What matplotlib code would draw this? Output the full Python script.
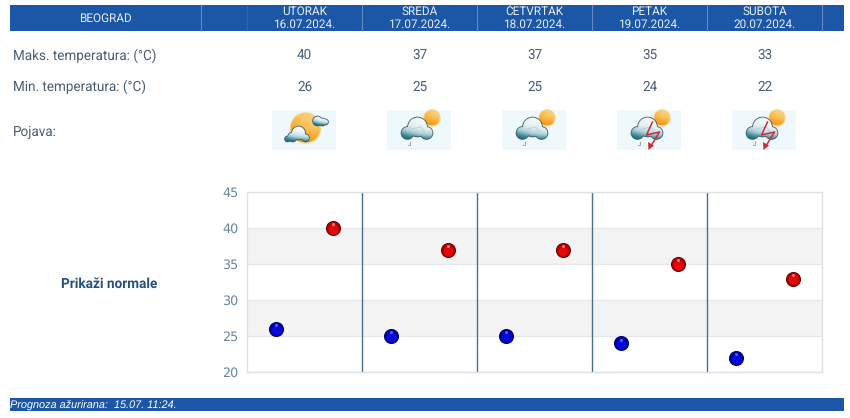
import numpy as np
import matplotlib
matplotlib.use("Agg")
import matplotlib.pyplot as plt
from matplotlib.patches import Rectangle, Circle, Polygon, PathPatch
from matplotlib.path import Path
from matplotlib.colors import LinearSegmentedColormap

plt.rcParams['font.family'] = ['Roboto', 'DejaVu Sans']
plt.rcParams['text.hinting'] = 'no_hinting'
plt.rcParams['text.hinting_factor'] = 8

city = "BEOGRAD"
days = ["UTORAK", "SREDA", "ČETVRTAK", "PETAK", "SUBOTA"]
dates = ["16.07.2024.", "17.07.2024.", "18.07.2024.", "19.07.2024.", "20.07.2024."]
t_max = [40, 37, 37, 35, 33]
t_min = [26, 25, 25, 24, 22]
icons = ["sun", "cloud", "cloud", "storm", "storm"]
y_ticks = [20, 25, 30, 35, 40, 45]
bands = [(25, 30), (35, 40)]

W, H = 850, 418
BLUE = "#1b57a6"
TXT = "#4a5e73"
HEAD = "#e6edf6"
BODY = 9.75
HEADSZ = 8.5
fig = plt.figure(figsize=(W / 100, H / 100), dpi=100, facecolor="white")

ov = fig.add_axes([0, 0, 1, 1], zorder=1)
ov.set_xlim(0, W); ov.set_ylim(H, 0); ov.axis("off"); ov.set_autoscale_on(False)

ov.add_patch(Rectangle((10, 5), 834, 26, fc=BLUE, ec="none"))
ov.add_patch(Rectangle((10, 398), 834, 13, fc=BLUE, ec="none"))
for x, a in [(201, .6), (247, .18), (362, .6), (477, .6), (592, .6), (707, .6), (822, .6)]:
    ov.plot([x, x], [5, 31], color="#8fb0d8", lw=.8, alpha=a)
ov.text(105, 18.5, city, color=HEAD, fontsize=HEADSZ, ha="center", va="center")
ov.text(10.5, 404.5, "Prognoza ažurirana:  15.07. 11:24.", color="white", fontsize=7.8,
        style="italic", family=["Liberation Sans"], ha="left", va="center")
ov.text(13, 55.5, "Maks. temperatura: (°C)", color=TXT, fontsize=BODY, va="center")
ov.text(13, 87, "Min. temperatura: (°C)", color=TXT, fontsize=BODY, va="center")
ov.text(13, 132, "Pojava:", color=TXT, fontsize=BODY, va="center")
ov.text(109, 284, "Prikaži normale", color="#26517f", fontsize=9.8, weight="bold",
        ha="center", va="center")

cloud_cmap = LinearSegmentedColormap.from_list("c", ["#f6fafb", "#e2eff2", "#a9cdd5", "#3f8a9b", "#1f6576"])
sun_cmap = LinearSegmentedColormap.from_list("s", ["#fcd27a", "#f7ab2e", "#ee8f12"])


def circles_path(circles):
    return Path.make_compound_path(*[
        Path.circle((x, y), r) for x, y, r in circles])


def grad_fill(circles, cmap, x0, x1, y0, y1, z):
    gy, gx = np.mgrid[0:1:40j, 0:1:40j]
    im = ov.imshow(np.clip(gy * gy * .75 + (1 - gx) ** 2 * .35, 0, 1), cmap=cmap, vmin=0, vmax=1,
                   extent=(x0, x1, y1, y0), zorder=z, aspect="auto", interpolation="bilinear")
    im.set_clip_path(PathPatch(circles_path(circles), transform=ov.transData))


def cloud(lobes, z):
    xs = [c[0] for c in lobes]; ys = [c[1] for c in lobes]; rs = [c[2] for c in lobes]
    for x, y, r in lobes:
        ov.add_patch(Circle((x, y), r + .8, fc="#3a5a66", ec="none", zorder=z))
    grad_fill(lobes, cloud_cmap, min(xs) - max(rs), max(xs) + max(rs),
              min(y - r for x, y, r in lobes), max(y + r for x, y, r in lobes), z + .1)


def sun(x, y, r, z):
    ov.add_patch(Circle((x, y), r + 1.2, fc="#f9cf8a", ec="none", zorder=z))
    grad_fill([(x, y, r)], sun_cmap, x - r, x + r, y - r, y + r, z + .1)


def draw_icon(kind, cx):
    cy = 130
    ov.add_patch(Rectangle((cx - 32, cy - 20), 64, 40, fc="#eff9fc", ec="none", zorder=2))
    if kind == "sun":
        sun(cx + 1, cy - 2, 14.5, 3)
        cloud([(cx + 13, cy - 9, 4.5), (cx + 18, cy - 8, 3.5), (cx + 21, cy - 8, 2.5)], 4)
        cloud([(cx - 12, cy + 7, 4.5), (cx - 6, cy + 3, 6.5), (cx + 1, cy + 8, 3.5), (cx - 17, cy + 9, 2.5)], 5)
    else:
        sun(cx + 12.5, cy - 12, 7.5, 3)
        cloud([(cx - 12, cy + 3, 6), (cx - 2, cy - 3, 9.5), (cx + 7, cy + 3, 6)], 4)
        ov.plot([cx - 8, cx + 1, cx + 5], [cy - 1, cy - 3, cy + 1], color="#b9d0d6", lw=.7, zorder=5)
        ov.text(cx - 10, cy + 14, "J", color="#667", fontsize=4.5, ha="center", va="center", zorder=5)
        if kind == "storm":
            ov.plot([cx + 3, cx - 3, cx + 10, cx + 2], [cy - 8, cy + 5, cy + 2, cy + 15],
                    color="#cf2a3a", lw=1.1, zorder=6)
            ov.add_patch(Polygon([(cx - 1, cy + 20), (cx - 1.5, cy + 12), (cx + 4.5, cy + 15.5)],
                                 fc="#cf2a3a", ec="none", zorder=6))


for i in range(5):
    cx = 247 + 115 * (i + 0.5)
    ov.text(cx, 12, days[i], color=HEAD, fontsize=HEADSZ, ha="center", va="center")
    ov.text(cx, 25, dates[i], color=HEAD, fontsize=HEADSZ, ha="center", va="center")
    ov.text(cx, 55.5, str(t_max[i]), color=TXT, fontsize=BODY, ha="center", va="center")
    ov.text(cx, 87, str(t_min[i]), color=TXT, fontsize=BODY, ha="center", va="center")
    draw_icon(icons[i], cx)

ax = fig.add_axes([246.8 / W, (H - 372.3) / H, 575 / W, 180 / H], zorder=2)
ax.set_xlim(0, 5); ax.set_ylim(20, 45)
ax.set_facecolor("white")
for lo, hi in bands:
    ax.axhspan(lo, hi, fc="#f3f3f3", ec="none", zorder=0)
ax.set_yticks(y_ticks)
ax.yaxis.grid(True, color="#e4e8ec", lw=1); ax.set_axisbelow(True)
ax.set_xticks([])
ax.tick_params(axis="y", length=0, pad=6, labelcolor="#6a87a3", labelsize=9.2)
for lab in ax.get_yticklabels():
    lab.set_family("DejaVu Sans")
for s in ax.spines.values():
    s.set_color("#dde2e8"); s.set_linewidth(1)
for i in range(1, 5):
    ax.axvline(i, color="#4f6f88", lw=1.0, zorder=1)


def balls(xs, ys, dark, mid, bright, light):
    ax.scatter(xs, ys, s=118, c=dark, linewidths=0, zorder=3, clip_on=False)
    ax.scatter(xs, ys, s=88, c=mid, linewidths=0, zorder=4, clip_on=False)
    ax.scatter(xs, [y - .1 for y in ys], s=48, c=bright, linewidths=0, zorder=5, clip_on=False)
    ax.scatter(xs, [y + .55 for y in ys], s=5, c=light, linewidths=0, zorder=6, clip_on=False)


xs = list(range(5))
balls([x + .25 for x in xs], t_min, "#000070", "#0000a8", "#0808d8", "#5a5ae8")
balls([x + .75 for x in xs], t_max, "#700000", "#b00404", "#e20a0a", "#f07070")

fig.savefig("out.png", dpi=100)
